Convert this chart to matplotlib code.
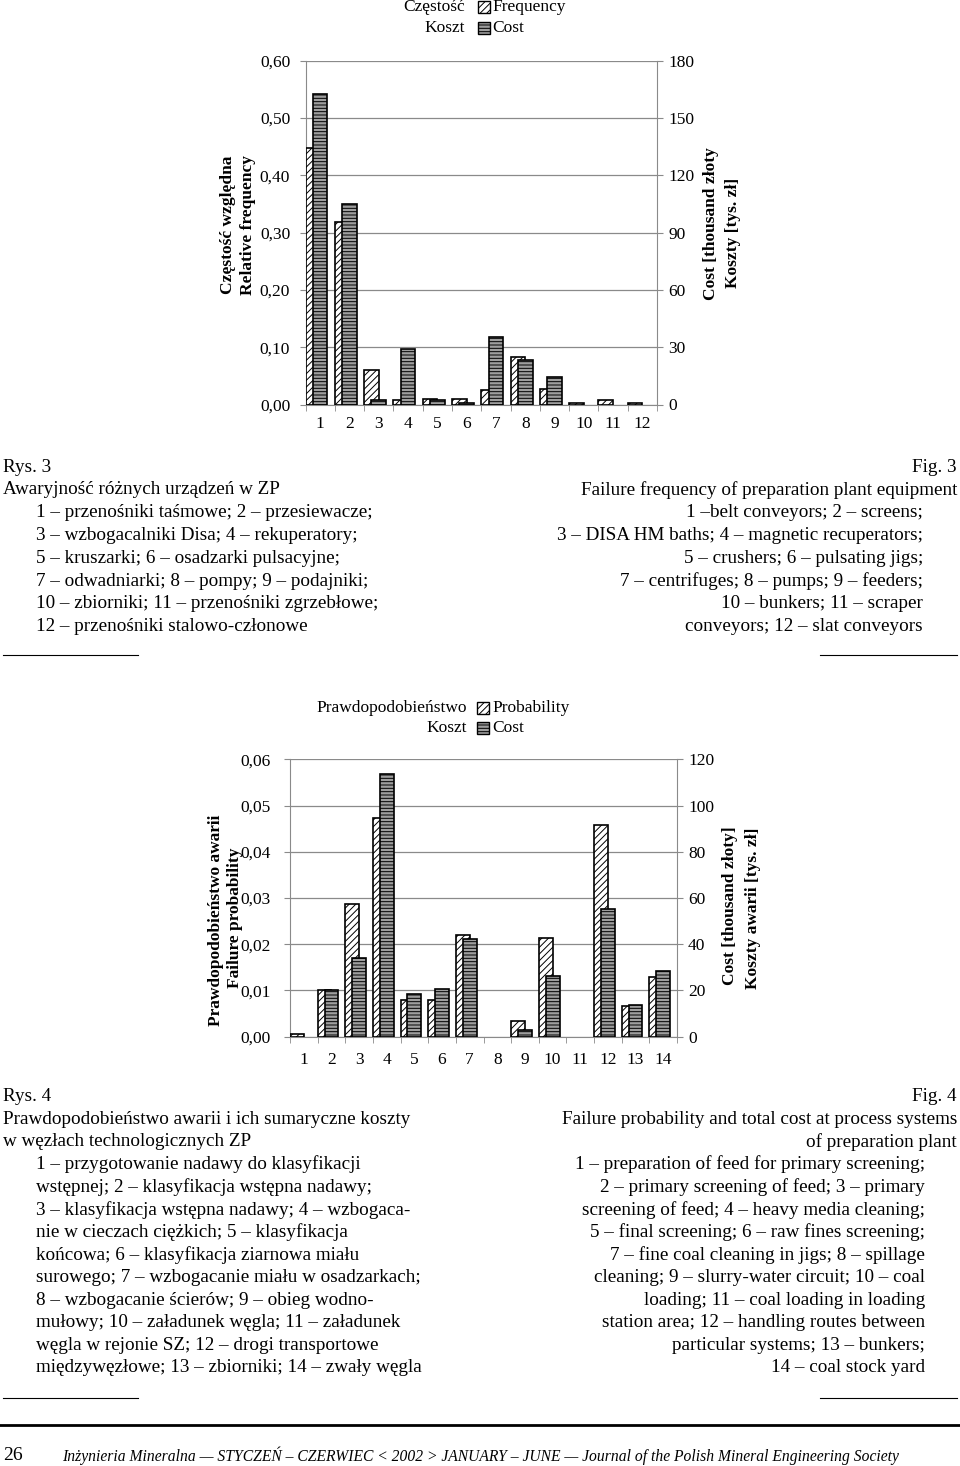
import numpy as np
import matplotlib
matplotlib.use('Agg')
import matplotlib.pyplot as plt
from matplotlib.patches import Rectangle
from matplotlib.lines import Line2D

plt.rcParams['font.family'] = ['Liberation Serif', 'DejaVu Serif']
plt.rcParams['hatch.linewidth'] = 0.7

W, H = 960, 1466

# Fig. 3 - failure frequency and cost per equipment type
equip = [str(i) for i in range(1, 13)]
freq = [0.448, 0.318, 0.060, 0.008, 0.010, 0.010, 0.0245, 0.083, 0.027, 0.003, 0.008, 0.003]
cost3 = [162.7, 104.9, 2.3, 29.0, 2.3, 0.9, 35.6, 23.2, 14.5, 0.0, 0.0, 0.0]
freq_ticks = [0.0, 0.1, 0.2, 0.3, 0.4, 0.5, 0.6]
freq_labels = ['0,00', '0,10', '0,20', '0,30', '0,40', '0,50', '0,60']
cost3_ticks = [0, 30, 60, 90, 120, 150, 180]

# Fig. 4 - failure probability and cost per process system
systems = [str(i) for i in range(1, 15)]
prob = [0.0006, 0.0101, 0.0287, 0.0474, 0.0080, 0.0080, 0.0221, 0.0, 0.0034, 0.0214, 0.0, 0.0458, 0.0067, 0.0129]
cost4 = [0.0, 20.1, 34.1, 113.8, 18.3, 20.7, 42.3, 0.0, 2.9, 26.4, 0.0, 55.4, 13.8, 28.4]
prob_ticks = [0.0, 0.01, 0.02, 0.03, 0.04, 0.05, 0.06]
prob_labels = ['0,00', '0,01', '0,02', '0,03', '0,04', '0,05', '0,06']
cost4_ticks = [0, 20, 40, 60, 80, 100, 120]

GRAY = '#8a8a8a'
HATCH1 = '/////'
HATCH2 = '-----'
COSTFACE = '#9e9e9e'

fig = plt.figure(figsize=(W / 100, H / 100), dpi=100)


def P(x, y):
    return x / W, 1 - y / H


def rect_px(x0, y0, x1, y1):
    return [x0 / W, 1 - y1 / H, (x1 - x0) / W, (y1 - y0) / H]


def chart(rect, cats, lvals, rvals, lticks, llabels, rticks, lpad, rpad, xpad):
    ax = fig.add_axes(rect)
    ax2 = ax.twinx()
    n = len(cats)
    x = np.arange(1, n + 1)
    lv = np.array(lvals)
    rv = np.array(rvals)
    m1 = lv > 0
    m2 = rv > 0
    ax.bar(x[m1] - 0.25, lv[m1], 0.5, facecolor='white', edgecolor='black',
           hatch=HATCH1, linewidth=1.2, zorder=3)
    ax2.bar(x[m2], rv[m2], 0.5, facecolor=COSTFACE, edgecolor='black',
            hatch=HATCH2, linewidth=1.2, zorder=3)
    ax.set_xlim(0.5, n + 0.5)
    ax.set_ylim(lticks[0], lticks[-1])
    ax2.set_ylim(rticks[0], rticks[-1])
    ax.set_yticks(lticks)
    ax.set_yticklabels(llabels)
    ax2.set_yticks(rticks)
    ax.set_xticks(x)
    ax.set_xticklabels(cats)
    ax.set_xticks(np.arange(0.5, n + 1), minor=True)
    ax.set_axisbelow(True)
    ax.yaxis.grid(True, color=GRAY, lw=0.9)
    for s in ['top', 'right']:
        ax.spines[s].set_visible(False)
    for s in ['top', 'left', 'bottom']:
        ax2.spines[s].set_visible(False)
    for s in ['left', 'bottom']:
        ax.spines[s].set_color(GRAY)
    ax2.spines['right'].set_color(GRAY)
    ax.tick_params(axis='y', length=4, color=GRAY, pad=lpad, labelsize=12.5)
    ax2.tick_params(axis='y', length=4, color=GRAY, pad=rpad, labelsize=12.5)
    ax.tick_params(axis='x', which='major', length=0, pad=xpad, labelsize=12.5)
    ax.tick_params(axis='x', which='minor', length=4, color=GRAY)
    return ax, ax2


# ---- Fig. 3 chart ----
chart(rect_px(305.5, 60.7, 657, 404.5), equip, freq, cost3, freq_ticks, freq_labels,
      cost3_ticks, 7, 4, 8)

lab = dict(fontsize=12.5, fontweight='bold', rotation=90, ha='center', va='center')
fig.text(*P(228, 225), 'Częstość względna', **lab)
fig.text(*P(248, 225), 'Relative frequency', **lab)
fig.text(*P(711, 224), 'Cost [thousand złoty', **lab)
fig.text(*P(733, 233), 'Koszty [tys. zł]', **lab)

# legend 1
fig.text(*P(465, 7), 'Częstość', fontsize=12.5, ha='right', va='center')
fig.text(*P(492, 7), 'Frequency', fontsize=12.5, ha='left', va='center')
fig.text(*P(465, 28), 'Koszt', fontsize=12.5, ha='right', va='center')
fig.text(*P(492, 28), 'Cost', fontsize=12.5, ha='left', va='center')
fig.add_artist(Rectangle(P(478, 13), 12 / W, 12 / H, transform=fig.transFigure,
                         facecolor='white', edgecolor='black', hatch=HATCH1, lw=1))
fig.add_artist(Rectangle(P(478, 34), 12 / W, 12 / H, transform=fig.transFigure,
                         facecolor=COSTFACE, edgecolor='black', hatch=HATCH2, lw=1))

# ---- Fig. 4 chart ----
chart(rect_px(290, 759.3, 677, 1036.7), systems, prob, cost4, prob_ticks, prob_labels,
      cost4_ticks, 10, 4, 11)

fig.text(*P(216, 920), 'Prawdopodobieństwo awarii', **lab)
fig.text(*P(235, 918), 'Failure probability', **lab)
fig.text(*P(730, 906), 'Cost [thousand złoty]', **lab)
fig.text(*P(753, 908), 'Koszty awarii [tys. zł]', **lab)

# legend 2
fig.text(*P(467, 708), 'Prawdopodobieństwo', fontsize=12.5, ha='right', va='center')
fig.text(*P(492, 708), 'Probability', fontsize=12.5, ha='left', va='center')
fig.text(*P(467, 728), 'Koszt', fontsize=12.5, ha='right', va='center')
fig.text(*P(492, 728), 'Cost', fontsize=12.5, ha='left', va='center')
fig.add_artist(Rectangle(P(477, 714), 12 / W, 12 / H, transform=fig.transFigure,
                         facecolor='white', edgecolor='black', hatch=HATCH1, lw=1))
fig.add_artist(Rectangle(P(477, 734), 12 / W, 12 / H, transform=fig.transFigure,
                         facecolor=COSTFACE, edgecolor='black', hatch=HATCH2, lw=1))

# ---- captions ----
CAP = 13.8
rys3_left = [
    'Awaryjność różnych urządzeń w ZP',
    '1 – przenośniki taśmowe; 2 – przesiewacze;',
    '3 – wzbogacalniki Disa; 4 – rekuperatory;',
    '5 – kruszarki; 6 – osadzarki pulsacyjne;',
    '7 – odwadniarki; 8 – pompy; 9 – podajniki;',
    '10 – zbiorniki; 11 – przenośniki zgrzebłowe;',
    '12 – przenośniki stalowo-członowe',
]
fig3_right = [
    'Failure frequency of preparation plant equipment',
    '1 –belt conveyors; 2 – screens;',
    '3 – DISA HM baths; 4 – magnetic recuperators;',
    '5 – crushers; 6 – pulsating jigs;',
    '7 – centrifuges; 8 – pumps; 9 – feeders;',
    '10 – bunkers; 11 – scraper',
    'conveyors; 12 – slat conveyors',
]
y0, dy = 467, 22.8
fig.text(*P(3, y0), 'Rys. 3', fontsize=CAP, va='center')
fig.text(*P(957, y0), 'Fig. 3', fontsize=CAP, va='center', ha='right')
for i, s in enumerate(rys3_left):
    fig.text(*P(3 if i == 0 else 36, y0 + dy * (i + 1)), s, fontsize=CAP, va='center')
for i, s in enumerate(fig3_right):
    fig.text(*P(957 if i == 0 else 923, y0 + dy * (i + 1)), s, fontsize=CAP,
             va='center', ha='right')

rys4_left = [
    'Prawdopodobieństwo awarii i ich sumaryczne koszty',
    'w węzłach technologicznych ZP',
    '1 – przygotowanie nadawy do klasyfikacji',
    'wstępnej; 2 – klasyfikacja wstępna nadawy;',
    '3 – klasyfikacja wstępna nadawy; 4 – wzbogaca-',
    'nie w cieczach ciężkich; 5 – klasyfikacja',
    'końcowa; 6 – klasyfikacja ziarnowa miału',
    'surowego; 7 – wzbogacanie miału w osadzarkach;',
    '8 – wzbogacanie ścierów; 9 – obieg wodno-',
    'mułowy; 10 – załadunek węgla; 11 – załadunek',
    'węgla w rejonie SZ; 12 – drogi transportowe',
    'międzywęzłowe; 13 – zbiorniki; 14 – zwały węgla',
]
fig4_right = [
    'Failure probability and total cost at process systems',
    'of preparation plant',
    '1 – preparation of feed for primary screening;',
    '2 – primary screening of feed; 3 – primary',
    'screening of feed; 4 – heavy media cleaning;',
    '5 – final screening; 6 – raw fines screening;',
    '7 – fine coal cleaning in jigs; 8 – spillage',
    'cleaning; 9 – slurry-water circuit; 10 – coal',
    'loading; 11 – coal loading in loading',
    'station area; 12 – handling routes between',
    'particular systems; 13 – bunkers;',
    '14 – coal stock yard',
]
y0, dy = 1096.7, 22.6
fig.text(*P(3, y0), 'Rys. 4', fontsize=CAP, va='center')
fig.text(*P(957, y0), 'Fig. 4', fontsize=CAP, va='center', ha='right')
for i, s in enumerate(rys4_left):
    fig.text(*P(3 if i < 2 else 36, y0 + dy * (i + 1)), s, fontsize=CAP, va='center')
for i, s in enumerate(fig4_right):
    fig.text(*P(957 if i < 2 else 925, y0 + dy * (i + 1)), s, fontsize=CAP,
             va='center', ha='right')

# short rules under captions
for yy in (655, 1398):
    fig.add_artist(Line2D([3 / W, 138 / W], [1 - yy / H] * 2, color='black', lw=0.8))
    fig.add_artist(Line2D([820 / W, 957 / W], [1 - yy / H] * 2, color='black', lw=0.8))

# footer
fig.add_artist(Line2D([0, 1], [1 - 1425 / H] * 2, color='black', lw=2))
fig.text(*P(3, 1456), '26', fontsize=14, va='center')
jt = fig.text(*P(62, 1456),
              'Inżynieria Mineralna — STYCZEŃ – CZERWIEC < 2002 > JANUARY – JUNE — '
              'Journal of the Polish Mineral Engineering Society',
              fontsize=11, style='italic', va='center')
r = fig.canvas.get_renderer()
w = jt.get_window_extent(r).width
jt.set_fontsize(11 * 838 / w)

fig.savefig('out.png', dpi=100)
